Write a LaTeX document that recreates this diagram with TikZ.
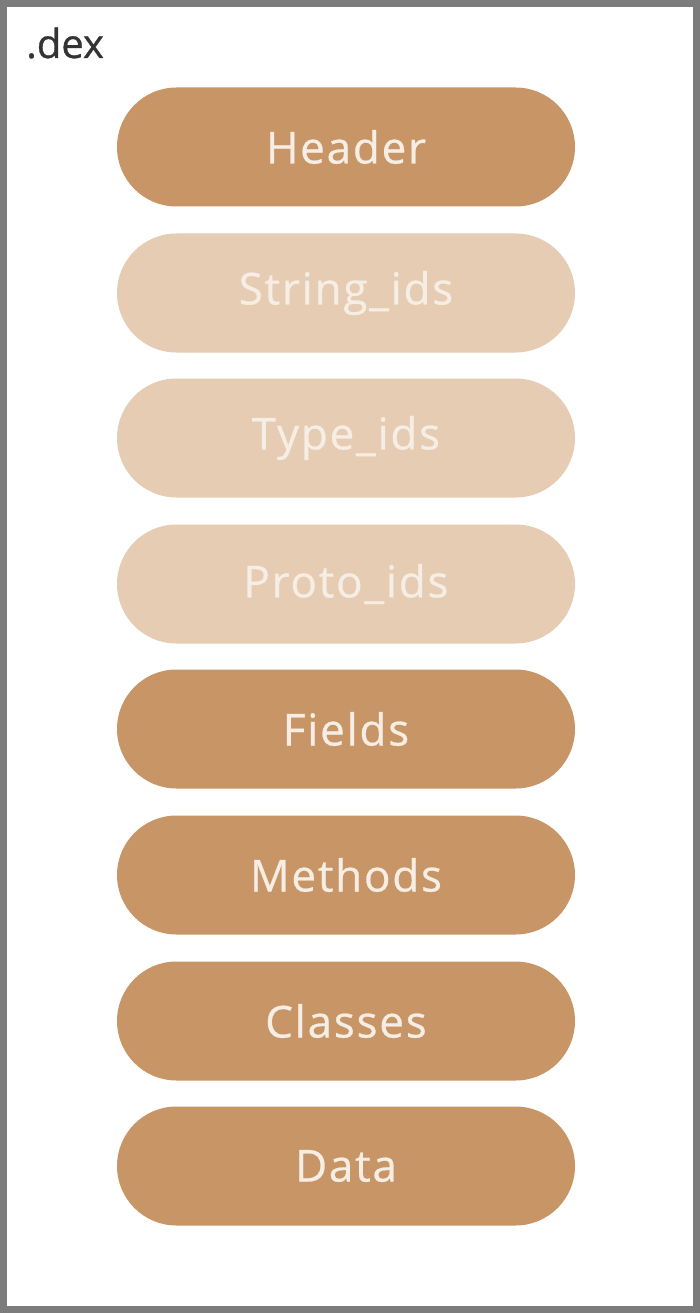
\documentclass[tikz,border=0pt]{standalone}
\usepackage{fontspec}
\setmainfont{Open Sans}
\newfontfamily\pillfont[LetterSpace=4,FakeBold=0.6]{Open Sans}
\newfontfamily\dexfont[FakeBold=0.8]{Open Sans}
\usetikzlibrary{shapes.misc}
\definecolor{darkpill}{HTML}{C89666}
\definecolor{lightpill}{HTML}{E5CCB3}
\definecolor{pilltext}{HTML}{F6EEE4}
\definecolor{frame}{HTML}{7C7C7C}
\begin{document}
\begin{tikzpicture}[x=1pt,y=-1pt,
  pill/.style={rounded rectangle, minimum width=458pt, minimum height=119pt, inner sep=0pt,
    text=pilltext, font=\pillfont\fontsize{44}{50}\selectfont},
  darkp/.style={pill, fill=darkpill},
  lightp/.style={pill, fill=lightpill}]
\useasboundingbox (0,0) rectangle (700,1313);
\draw[frame, line width=7pt, fill=white] (3.5,3.5) rectangle (696.5,1309.5);
\node[anchor=base west, text=black!80, font=\dexfont\fontsize{40}{46}\selectfont, inner sep=0pt] (dex) at (26,58) {.dex};
\node[darkp]  (header) at (346,147)  {Header};
\node[lightp] (strids) at (346,293)  {String\_ids};
\node[lightp] (typeids) at (346,438) {Type\_ids};
\node[lightp] (protoids) at (346,584) {Proto\_ids};
\node[darkp]  (fields) at (346,729)  {Fields};
\node[darkp]  (methods) at (346,875) {Methods};
\node[darkp]  (classes) at (346,1021) {Classes};
\node[darkp]  (data) at (346,1166)   {Data};
\end{tikzpicture}
\end{document}
